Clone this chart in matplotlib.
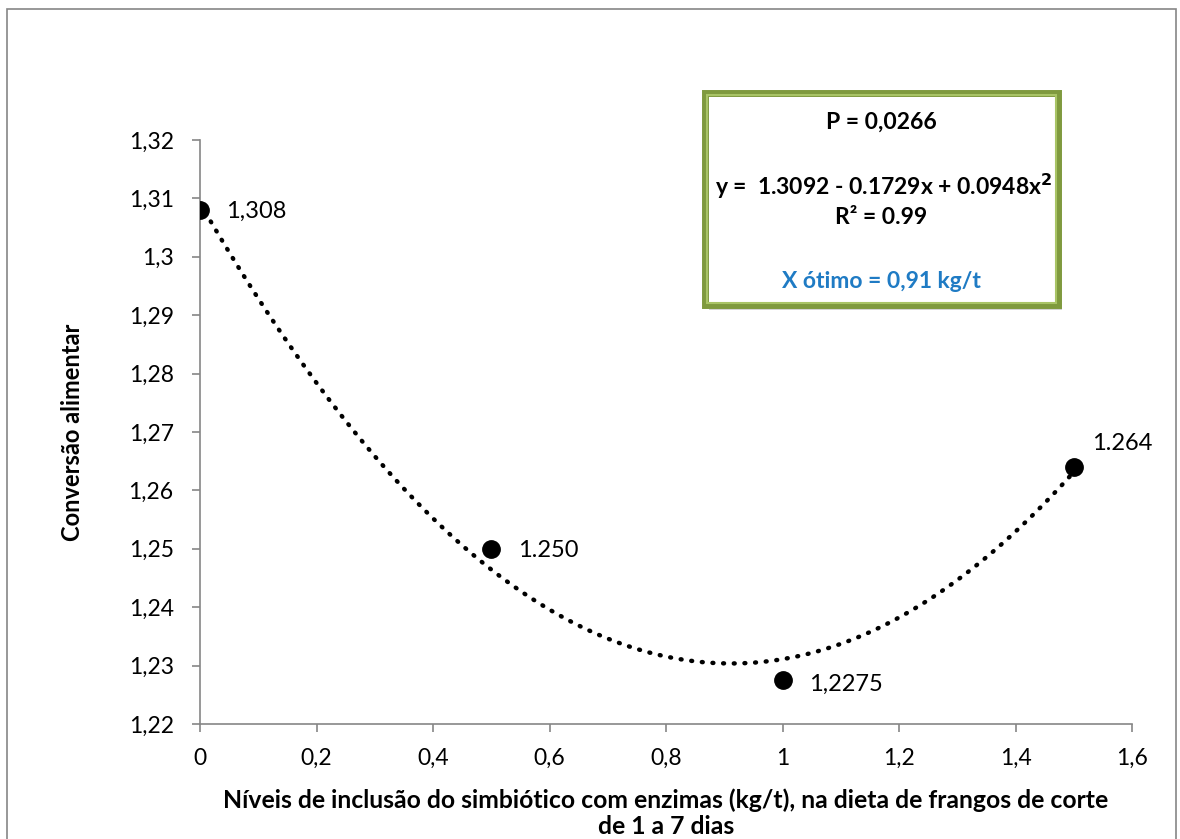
import numpy as np
import matplotlib.pyplot as plt
from matplotlib.patches import Rectangle

# Observed feed conversion by inclusion level
levels = [0.0, 0.5, 1.0, 1.5]
conversion = [1.308, 1.250, 1.2275, 1.264]
point_labels = ["1,308", "1.250", "1,2275", "1.264"]

# Quadratic fit coefficients
b0, b1, b2 = 1.3092, -0.1729, 0.0948

x_ticks = [0, 0.2, 0.4, 0.6, 0.8, 1.0, 1.2, 1.4, 1.6]
x_tick_labels = ["0", "0,2", "0,4", "0,6", "0,8", "1", "1,2", "1,4", "1,6"]
y_ticks = [1.22, 1.23, 1.24, 1.25, 1.26, 1.27, 1.28, 1.29, 1.30, 1.31, 1.32]
y_tick_labels = ["1,22", "1,23", "1,24", "1,25", "1,26", "1,27", "1,28", "1,29", "1,3", "1,31", "1,32"]

plt.rcParams['font.family'] = ['Lato', 'DejaVu Sans']
axis_gray = "#868686"

fig = plt.figure(figsize=(11.8, 8.39), dpi=100)
fig.patch.set_facecolor("white")

# outer chart frame
fig.patches.append(Rectangle((7 / 1180, -0.01), 1169 / 1180, 1 - 9 / 839 + 0.01,
                             transform=fig.transFigure, fill=False,
                             edgecolor=axis_gray, lw=1.2))

ax = fig.add_axes([200 / 1180, 1 - 724 / 839, 932 / 1180, 584 / 839])
ax.set_xlim(0, 1.6)
ax.set_ylim(1.22, 1.32)

xs = np.linspace(0, 1.5, 300)
ax.plot(xs, b0 + b1 * xs + b2 * xs ** 2, color="black", lw=3.2,
        linestyle=(0, (0.2, 2.2)), dash_capstyle="round", zorder=2)
ax.plot(levels, conversion, "o", color="black", markersize=12.5, zorder=3)

offsets = [(19, -1), (19, -1), (19, -3), (13, 17)]
for x, y, lab, (dx, dy) in zip(levels, conversion, point_labels, offsets):
    ax.annotate(lab, (x, y), xytext=(dx, dy), textcoords="offset points",
                fontsize=17, va="center", ha="left")

ax.set_xticks(x_ticks)
ax.set_xticklabels(x_tick_labels)
ax.set_yticks(y_ticks)
ax.set_yticklabels(y_tick_labels)
ax.tick_params(direction="out", length=6, width=1.2, color=axis_gray,
               labelsize=16.5)
ax.tick_params(axis="y", pad=13)
ax.tick_params(axis="x", pad=11)
for side in ("top", "right"):
    ax.spines[side].set_visible(False)
for side in ("left", "bottom"):
    ax.spines[side].set_color(axis_gray)
    ax.spines[side].set_linewidth(1.2)

fig.text(72 / 1180, 1 - 432 / 839, "Conversão alimentar", rotation=90,
         ha="center", va="center", fontsize=17, fontweight="bold")
fig.text(666 / 1180, 1 - 800 / 839, "Níveis de inclusão do simbiótico com enzimas (kg/t), na dieta de frangos de corte",
         ha="center", va="center", fontsize=17.8, fontweight="bold")
fig.text(666 / 1180, 1 - 826 / 839, "de 1 a 7 dias",
         ha="center", va="center", fontsize=17.8, fontweight="bold")

# equation box with soft shadow and bevelled green border
bx0, by0, bx1, by1 = 705, 93, 1058, 305
w, h = (bx1 - bx0) / 1180, (by1 - by0) / 839
fig.patches.append(Rectangle((bx0 / 1180 + 0.003, 1 - (by1 + 5) / 839), w, h,
                             transform=fig.transFigure, facecolor="#d4d4d4",
                             edgecolor="none", zorder=4))
fig.patches.append(Rectangle((bx0 / 1180, 1 - by1 / 839), w, h,
                             transform=fig.transFigure, facecolor="white",
                             edgecolor="#7f9a3e", lw=5, zorder=5))
inset_x, inset_y = 2 / 1180, 2 / 839
fig.patches.append(Rectangle((bx0 / 1180 + inset_x, 1 - by1 / 839 + inset_y),
                             w - 2 * inset_x, h - 2 * inset_y,
                             transform=fig.transFigure, facecolor="none",
                             edgecolor="#a9c466", lw=1.5, zorder=5))
cx = (bx0 + bx1) / 2 / 1180
fig.text(cx, 1 - 122 / 839, "P = 0,0266", ha="center", va="center",
         fontsize=16.5, fontweight="bold", zorder=6)
fig.text(cx + 0.002, 1 - 186 / 839, "y =  1.3092 - 0.1729x + 0.0948x$^\\mathbf{2}$", ha="center", va="center",
         fontsize=16.5, fontweight="bold", zorder=6)
fig.text(cx, 1 - 217 / 839, "R² = 0.99", ha="center", va="center",
         fontsize=16.5, fontweight="bold", zorder=6)
fig.text(cx, 1 - 281 / 839, "X ótimo = 0,91 kg/t", ha="center", va="center",
         fontsize=16.5, fontweight="bold", color="#1f7bc4", zorder=6)

fig.savefig("out.png", dpi=100)
